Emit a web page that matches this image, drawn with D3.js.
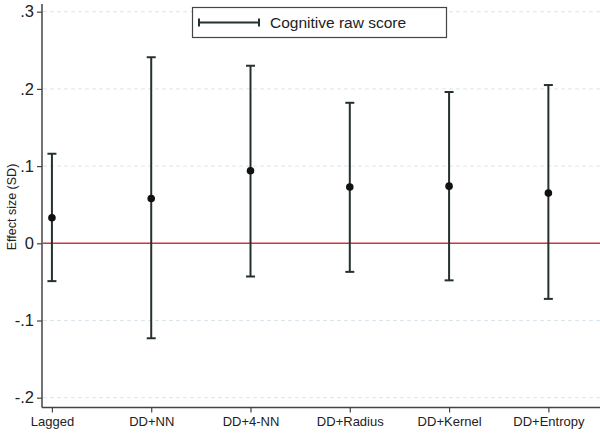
<!DOCTYPE html>
<meta charset="utf-8">
<style>
body { margin: 0; background: #fff; }
text { font-family: "Liberation Sans", Arial, sans-serif; fill: #222; }
.grid line { stroke: #dbe5ec; stroke-dasharray: 4,3; stroke-width: 1; }
.bar line { stroke: #253030; stroke-width: 2; }
</style>
<svg width="600" height="435"></svg>
<script src="https://cdn.jsdelivr.net/npm/d3@7"></script>
<script>

// Data
var models = ["Lagged", "DD+NN", "DD+4-NN", "DD+Radius", "DD+Kernel", "DD+Entropy"];
var estimate = [0.033, 0.058, 0.094, 0.073, 0.074, 0.065];
var lower = [-0.049, -0.123, -0.043, -0.037, -0.048, -0.072];
var upper = [0.116, 0.241, 0.230, 0.182, 0.196, 0.205];
var yTicks = [-0.2, -0.1, 0, 0.1, 0.2, 0.3];
var yTickLabels = ["-.2", "-.1", "0", ".1", ".2", ".3"];

var svg = d3.select("svg");

var x = d3.scaleLinear().domain([0.9, 6.52]).range([42, 600]);
var y = d3.scaleLinear().domain([0, 0.3]).range([243.3, 11.7]);

// Gridlines
svg.append("g")
    .attr("class", "grid")
    .selectAll("line")
    .data(yTicks.filter(function(d) { return d !== 0; }))
    .enter().append("line")
      .attr("x1", 43).attr("x2", 600)
      .attr("y1", function(d) { return y(d); })
      .attr("y2", function(d) { return y(d); });

// Reference line at zero
svg.append("line")
    .attr("x1", 43).attr("x2", 600)
    .attr("y1", y(0)).attr("y2", y(0))
    .attr("stroke", "#d0363c")
    .attr("stroke-width", 1.5);

// Y axis
var yAxis = svg.append("g")
    .attr("transform", "translate(42,0)")
    .call(d3.axisLeft(y).tickValues(yTicks)
          .tickFormat(function(d, i) { return yTickLabels[i]; })
          .tickSize(5).tickPadding(3));
yAxis.select(".domain").attr("d", "M0,4V407.5").attr("stroke", "#444").attr("stroke-width", 1.5);
yAxis.selectAll(".tick line").attr("stroke", "#444").attr("stroke-width", 1.2);
yAxis.selectAll(".tick text").style("font-size", "16.5px").attr("fill", "#222");

// X axis
var xAxis = svg.append("g")
    .attr("transform", "translate(0,407.5)")
    .call(d3.axisBottom(x).tickValues(d3.range(1, models.length + 1))
          .tickFormat(function(d) { return models[d - 1]; })
          .tickSize(5).tickPadding(4));
xAxis.select(".domain").attr("d", "M42,0H600").attr("stroke", "#444").attr("stroke-width", 1.5);
xAxis.selectAll(".tick line").attr("stroke", "#444").attr("stroke-width", 1.2);
xAxis.selectAll(".tick text").style("font-size", "13px").attr("fill", "#222");

// Y axis title
svg.append("text")
    .attr("transform", "translate(16,207) rotate(-90)")
    .attr("text-anchor", "middle")
    .style("font-size", "12.5px")
    .text("Effect size (SD)");

// Error bars
var bars = svg.append("g")
    .attr("class", "bar")
    .selectAll("g")
    .data(models)
    .enter().append("g");

bars.append("line")
    .attr("x1", function(d, i) { return x(i + 1); })
    .attr("x2", function(d, i) { return x(i + 1); })
    .attr("y1", function(d, i) { return y(lower[i]); })
    .attr("y2", function(d, i) { return y(upper[i]); });

bars.append("line")
    .attr("x1", function(d, i) { return x(i + 1) - 4.5; })
    .attr("x2", function(d, i) { return x(i + 1) + 4.5; })
    .attr("y1", function(d, i) { return y(upper[i]); })
    .attr("y2", function(d, i) { return y(upper[i]); });

bars.append("line")
    .attr("x1", function(d, i) { return x(i + 1) - 4.5; })
    .attr("x2", function(d, i) { return x(i + 1) + 4.5; })
    .attr("y1", function(d, i) { return y(lower[i]); })
    .attr("y2", function(d, i) { return y(lower[i]); });

// Point estimates
svg.append("g")
    .selectAll("circle")
    .data(estimate)
    .enter().append("circle")
      .attr("cx", function(d, i) { return x(i + 1); })
      .attr("cy", function(d) { return y(d); })
      .attr("r", 3.8)
      .attr("fill", "#111");

// Legend
var legend = svg.append("g");
legend.append("rect")
    .attr("x", 192.5).attr("y", 7.5)
    .attr("width", 254).attr("height", 30)
    .attr("fill", "#fff")
    .attr("stroke", "#444")
    .attr("stroke-width", 1.2);
legend.append("line")
    .attr("x1", 199).attr("x2", 259).attr("y1", 22.5).attr("y2", 22.5)
    .attr("stroke", "#253030").attr("stroke-width", 2);
legend.append("line")
    .attr("x1", 199).attr("x2", 199).attr("y1", 18.5).attr("y2", 26.5)
    .attr("stroke", "#253030").attr("stroke-width", 2);
legend.append("line")
    .attr("x1", 259).attr("x2", 259).attr("y1", 18.5).attr("y2", 26.5)
    .attr("stroke", "#253030").attr("stroke-width", 2);
legend.append("text")
    .attr("x", 270).attr("y", 28)
    .style("font-size", "15.5px")
    .text("Cognitive raw score");

</script>
